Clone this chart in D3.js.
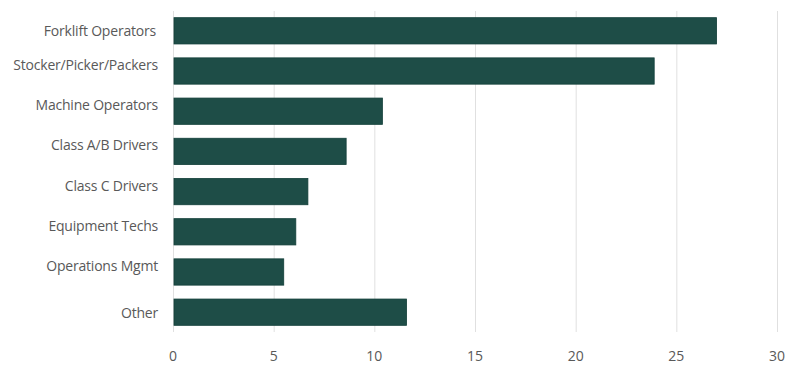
<!DOCTYPE html>
<html><head><meta charset="utf-8">
<script src="https://cdn.jsdelivr.net/npm/d3@7"></script>
<style>body{margin:0;background:#fff}svg{display:block}text{font-family:"Open Sans",sans-serif;fill:#595959}</style>
</head><body><svg id="c" width="800" height="366"></svg>
<script>
const categories = ["Forklift Operators", "Stocker/Picker/Packers", "Machine Operators", "Class A/B Drivers", "Class C Drivers", "Equipment Techs", "Operations Mgmt", "Other"];
const values = [27.0, 23.9, 10.4, 8.6, 6.7, 6.1, 5.5, 11.6];
const xTicks = [0, 5, 10, 15, 20, 25, 30];

const svg = d3.select("#c");
const x = d3.scaleLinear().domain([0, 30]).range([173, 777]);
const y = d3.scaleBand().domain(categories).range([11, 332]).paddingInner(0.346).paddingOuter(0.166);

svg.append("g").selectAll("line").data(xTicks).join("line")
  .attr("x1", d => x(d) + 0.5).attr("x2", d => x(d) + 0.5)
  .attr("y1", 11).attr("y2", 332)
  .attr("stroke", "#e0e0e0").attr("stroke-width", 1);

svg.append("g").selectAll("rect").data(categories).join("rect")
  .attr("x", x(0) + 1).attr("y", d => y(d))
  .attr("width", (d, i) => x(values[i]) - x(0) - 1)
  .attr("height", y.bandwidth())
  .attr("fill", "#1e4d47").attr("stroke", "#123f39").attr("stroke-width", 0.8);

// category labels: first and last sit on the bar centre, the rest are raised slightly (as in the reference)
const n = categories.length;
svg.append("g").selectAll("text").data(categories).join("text")
  .attr("x", (d, i) => i === 0 ? 156 : 158)
  .attr("y", (d, i) => y(d) + y.bandwidth() / 2 - ((i === 0 || i === n - 1) ? 0 : 6.5))
  .attr("text-anchor", "end").attr("dominant-baseline", "central")
  .attr("letter-spacing", -0.2)
  .attr("font-size", 14).text(d => d);

svg.append("g").selectAll("text").data(xTicks).join("text")
  .attr("x", d => x(d)).attr("y", 355)
  .attr("text-anchor", "middle").attr("dominant-baseline", "central")
  .attr("font-size", 14).text(d => d);
</script></body></html>
